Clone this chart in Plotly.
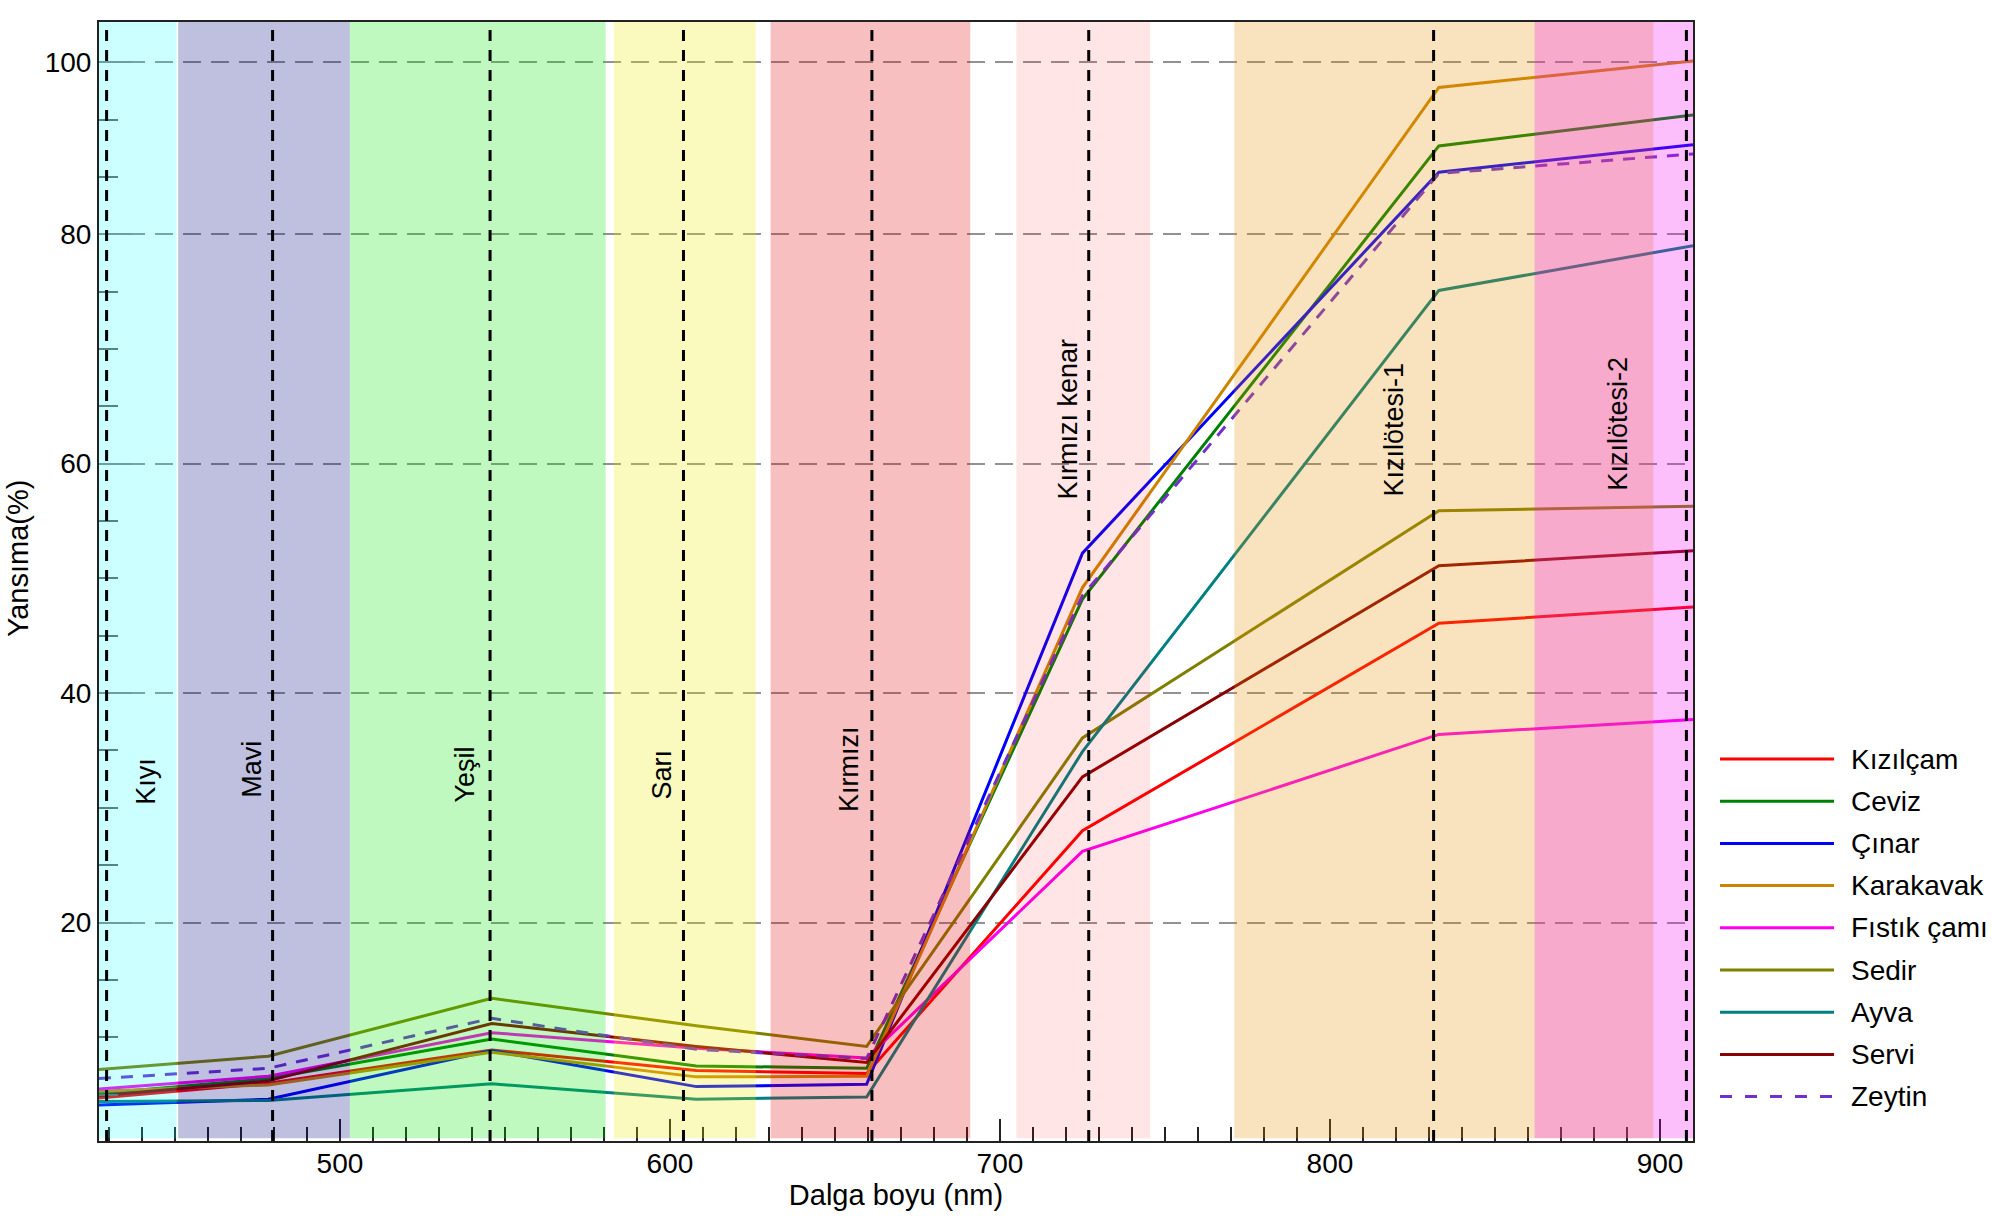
import plotly.graph_objects as go

# ---------------- data ----------------
wavelength = [427, 478.3, 546, 608, 659.6, 725, 833, 910]

species = ["Kızılçam", "Ceviz", "Çınar", "Karakavak", "Fıstık çamı",
           "Sedir", "Ayva", "Servi", "Zeytin"]

kizilcam = [4.7, 6.0, 8.9, 7.1, 6.85, 28.0, 46.1, 47.5]
ceviz = [5.1, 6.4, 9.85, 7.5, 7.3, 48.2, 87.7, 90.4]
cinar = [4.1, 4.6, 8.85, 5.7, 5.9, 52.2, 85.4, 87.8]
karakavak = [5.3, 5.85, 8.7, 6.55, 6.6, 49.2, 92.8, 95.1]
fistik_cami = [5.5, 6.6, 10.4, 9.05, 8.2, 26.2, 36.4, 37.7]
sedir = [7.2, 8.35, 13.4, 11.0, 9.2, 36.1, 55.9, 56.3]
ayva = [4.4, 4.5, 5.95, 4.6, 4.8, 34.9, 75.1, 79.0]
servi = [4.9, 6.2, 11.2, 9.2, 7.8, 32.7, 51.1, 52.4]
zeytin = [6.4, 7.3, 11.65, 8.95, 8.15, 48.5, 85.3, 87.0]

series_values = [kizilcam, ceviz, cinar, karakavak, fistik_cami,
                 sedir, ayva, servi, zeytin]

band_names = ["Kıyı", "Mavi", "Yeşil", "Sarı", "Kırmızı",
              "Kırmızı kenar", "Kızılötesi-1", "Kızılötesi-2"]
band_start = [400, 451, 503, 583, 630.5, 705, 771, 862]
band_end = [450.5, 503, 580.5, 626, 691, 745.5, 898, 1040]
band_center = [429.3, 479.6, 545.5, 604.1, 661.2, 726.9, 831.4, 908.0]

y_tickvals = [20, 40, 60, 80, 95]
y_ticktext = ["20", "40", "60", "80", "100"]

# ---------------- styles ----------------
line_colors = ["#ff0000", "#008000", "#0000ff", "#cc8400", "#ff00ee",
               "#808000", "#008080", "#8b0000", "#7030d0"]
line_dashes = ["solid"] * 8 + ["12px,10px"]
band_fill = ["rgba(0,255,255,0.2)", "rgba(0,0,128,0.25)", "rgba(0,230,0,0.25)",
             "rgba(235,235,0,0.25)", "rgba(225,0,0,0.25)", "rgba(255,0,0,0.1)",
             "rgba(230,145,0,0.25)", "rgba(245,0,245,0.25)"]
label_x = [441.3, 473.3, 537.9, 597.6, 654.3, 720.5, 819.5, 887.0]
label_y = [32.3, 33.4, 32.9, 32.9, 33.4, 63.9, 63.0, 63.5]

FONT = "Liberation Sans, Arial, sans-serif"
X_RANGE = [427, 910]
Y_RANGE = [0.96, 98.5]

L, R, T, B = 99, 300, 22, 88
W, H = 1993, 1229
pw, ph = W - L - R, H - T - B

fig = go.Figure()
for name, vals, col, dash in zip(species, series_values, line_colors, line_dashes):
    fig.add_trace(go.Scatter(x=wavelength, y=vals, mode="lines", name=name,
                             line=dict(color=col, width=3, dash=dash),
                             showlegend=False))

shapes = []
# translucent spectral bands drawn over the curves
for x0, x1, fc in zip(band_start, band_end, band_fill):
    shapes.append(dict(type="rect", xref="x", yref="y",
                       x0=max(x0, X_RANGE[0]), x1=min(x1, X_RANGE[1]),
                       y0=1.2, y1=Y_RANGE[1], fillcolor=fc,
                       line=dict(width=0), layer="above"))
# band centre lines
for xc in band_center:
    shapes.append(dict(type="line", xref="x", yref="y", x0=xc, x1=xc,
                       y0=Y_RANGE[0], y1=Y_RANGE[1],
                       line=dict(color="black", width=3, dash="11px,9px"),
                       layer="above"))

annotations = []
for txt, lx, ly in zip(band_names, label_x, label_y):
    annotations.append(dict(x=lx, y=ly, xref="x", yref="y", text=txt,
                            textangle=-90, showarrow=False,
                            font=dict(family=FONT, size=27, color="black")))

# manual legend (long line samples like the reference); page-pixel positions
for i, (name, col, dash) in enumerate(zip(species, line_colors, line_dashes)):
    py = 759 + 42.2 * i
    yp = (H - B - py) / ph
    shapes.append(dict(type="line", xref="paper", yref="paper",
                       x0=(1720 - L) / pw, x1=(1834 - L) / pw,
                       y0=yp, y1=yp,
                       line=dict(color=col, width=3,
                                 dash="12px,13px" if dash != "solid" else "solid")))
    annotations.append(dict(x=(1849 - L) / pw, y=yp, xref="paper",
                            yref="paper", text=name, showarrow=False,
                            xanchor="left", yanchor="middle",
                            font=dict(family=FONT, size=28, color="black")))

# y-axis title (placed slightly above centre, as in the reference)
annotations.append(dict(x=(18 - L) / pw, y=(H - B - 559) / ph,
                        xref="paper", yref="paper", text="Yansıma(%)",
                        textangle=-90, showarrow=False,
                        xanchor="center", yanchor="middle",
                        font=dict(family=FONT, size=29, color="black")))

fig.update_layout(
    width=W, height=H,
    margin=dict(l=L, r=R, t=T, b=B),
    paper_bgcolor="white", plot_bgcolor="white",
    font=dict(family=FONT, size=28, color="black"),
    shapes=shapes, annotations=annotations,
    showlegend=False,
)

fig.update_xaxes(
    range=X_RANGE, tickmode="linear", tick0=0, dtick=100,
    ticks="inside", ticklen=22, tickwidth=1.5, tickcolor="#222",
    minor=dict(tickmode="linear", tick0=0, dtick=10, ticks="inside",
               ticklen=14, tickwidth=1.5, tickcolor="#222"),
    showgrid=False, zeroline=False,
    showline=True, linecolor="#222", linewidth=2, mirror=True,
    tickfont=dict(family=FONT, size=28, color="black"),
    ticklabelstandoff=-4,
    title=dict(text="Dalga boyu (nm)", standoff=0,
               font=dict(family=FONT, size=29, color="black")),
    automargin=False,
)

fig.update_yaxes(
    range=Y_RANGE, tickmode="array", tickvals=y_tickvals, ticktext=y_ticktext,
    ticks="inside", ticklen=33, tickwidth=1.5, tickcolor="#888",
    minor=dict(tickmode="linear", tick0=0, dtick=5, ticks="inside",
               ticklen=19, tickwidth=1.5, tickcolor="#666", showgrid=False),
    showgrid=True, gridcolor="rgba(110,110,110,0.75)", gridwidth=1.5,
    griddash="18px,10px",
    zeroline=False,
    showline=True, linecolor="#222", linewidth=2, mirror=True,
    tickfont=dict(family=FONT, size=28, color="black"),
    automargin=False,
)

# remove the default page margin so the figure fills the window exactly
fig.write_html("out.html", config={"displayModeBar": False},
               post_script="document.body.style.margin='0';")
